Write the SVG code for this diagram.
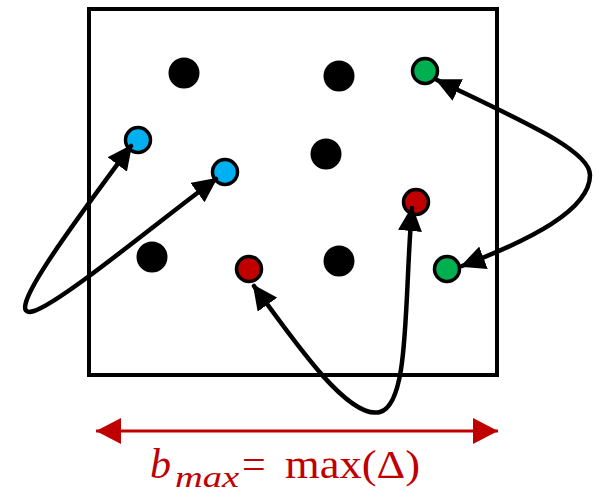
<svg xmlns="http://www.w3.org/2000/svg" width="598" height="493" viewBox="0 0 598 493">
<style>
.dot{fill:#000}
.pt{stroke:#000;stroke-width:3.5}
.blue{fill:#00B0F0}
.green{fill:#00B050}
.red{fill:#C00000}
.conn{fill:none;stroke:#000;stroke-width:4.5;stroke-linecap:round}
.lbl{font-family:"Liberation Serif",serif;fill:#C00000}
</style>
<defs>
<marker id="ah" markerUnits="userSpaceOnUse" markerWidth="27" markerHeight="24" refX="23" refY="12" orient="auto-start-reverse">
<path d="M0,0 L25,12 L0,24 Z" fill="#000"/>
</marker>
<marker id="rah" markerUnits="userSpaceOnUse" markerWidth="26" markerHeight="26" refX="25" refY="13" orient="auto-start-reverse">
<path d="M0,0 L25,13 L0,26 Z" fill="#C00000"/>
</marker>
</defs>
<g id="frame"><rect x="89" y="9" width="408" height="366" fill="none" stroke="#000" stroke-width="4"/></g>
<g id="black-dots">
<circle class="dot" cx="184" cy="73" r="15.5"/>
<circle class="dot" cx="339" cy="76" r="15.5"/>
<circle class="dot" cx="326" cy="154" r="15.5"/>
<circle class="dot" cx="152" cy="257" r="15.5"/>
<circle class="dot" cx="339" cy="261" r="15.5"/>
</g>
<g id="blue1"><circle class="pt blue" cx="138" cy="140" r="12.5"/></g>
<g id="blue2"><circle class="pt blue" cx="225" cy="172" r="12.5"/></g>
<g id="green1"><circle class="pt green" cx="425" cy="71" r="12.5"/></g>
<g id="green2"><circle class="pt green" cx="447" cy="269" r="12.5"/></g>
<g id="red1"><circle class="pt red" cx="249" cy="269" r="12.5"/></g>
<g id="red2"><circle class="pt red" cx="416" cy="202" r="12.5"/></g>
<g id="connectors">
<path class="conn" marker-start="url(#ah)" marker-end="url(#ah)" d="M131,146 C70,228 0,322 34,311 C62,302 160,220 216,179"/>
<path class="conn" marker-start="url(#ah)" marker-end="url(#ah)" d="M254,286 C300,350 350,420 380,412 C410,404 404,300 412,208"/>
<path class="conn" marker-start="url(#ah)" marker-end="url(#ah)" d="M437,80 C520,120 590,150 590,175 C590,210 530,240 462,266"/>
<path d="M96,431 L498,431" fill="none" stroke="#C00000" stroke-width="3" marker-start="url(#rah)" marker-end="url(#rah)"/>
</g>
<g id="label">
<text class="lbl" x="150" y="478" font-size="42" font-style="italic">b</text>
<text class="lbl" x="175" y="487" font-size="30" font-style="italic" textLength="64" lengthAdjust="spacingAndGlyphs">max</text>
<text class="lbl" x="242" y="478" font-size="42">=</text>
<text class="lbl" x="285" y="478" font-size="40" textLength="135" lengthAdjust="spacingAndGlyphs">max(Δ)</text>
</g>
</svg>
